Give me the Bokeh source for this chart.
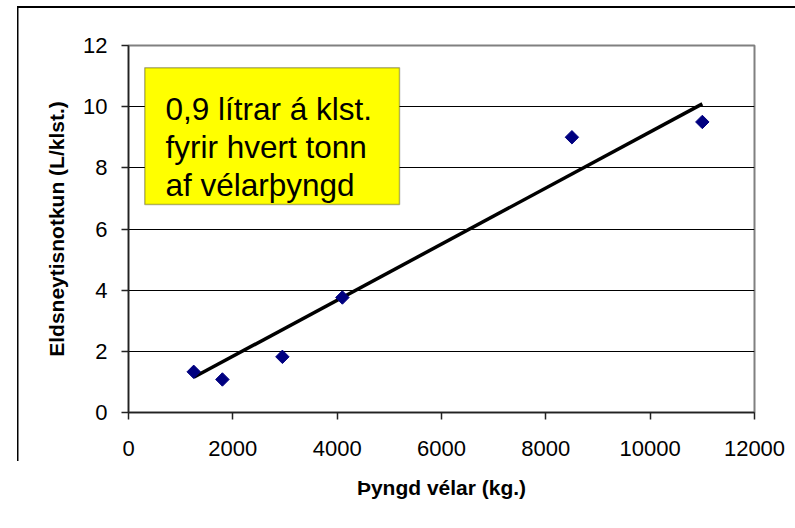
import math
from bokeh.plotting import figure
from bokeh.models import Range1d, FixedTicker, BoxAnnotation, Label
from bokeh.embed import file_html
from bokeh.resources import INLINE

# ---- data ----
weight_kg = [1250, 1800, 2950, 4100, 8500, 11000]
fuel_lph = [1.33, 1.08, 1.82, 3.76, 9.0, 9.5]
trend_x = [1250, 11000]
trend_y = [1.15, 10.09]
x_ticks = [0, 2000, 4000, 6000, 8000, 10000, 12000]
y_ticks = [0, 2, 4, 6, 8, 10, 12]
note_lines = ["0,9 lítrar á klst.", "fyrir hvert tonn", "af vélarþyngd"]
x_title = "Þyngd vélar (kg.)"
y_title = "Eldsneytisnotkun (L/klst.)"

FONT = "Liberation Sans"
W, H = 795, 528

p = figure(width=W, height=H, output_backend="svg", toolbar_location=None,
           x_range=Range1d(0, 12000), y_range=Range1d(0, 12),
           min_border_left=128, min_border_right=41, min_border_top=45,
           min_border_bottom=116)
p.background_fill_color = "white"
p.border_fill_alpha = 0
p.outline_line_color = "#808080"
p.outline_line_width = 2
# outer chart-area border lines (top and left) drawn as CSS backgrounds
p.styles = {
    "background-color": "white",
    "background-image": "linear-gradient(#000,#000), linear-gradient(#000,#000)",
    "background-size": "777px 2px, 1.5px 455px",
    "background-position": "18px 6px, 17px 6px",
    "background-repeat": "no-repeat",
}

# axes
for ax in (p.xaxis[0], p.yaxis[0]):
    ax.axis_line_color = "#222222"
    ax.axis_line_width = 1.5
    ax.major_tick_line_color = "#222222"
    ax.major_tick_line_width = 1.5
    ax.major_tick_in = 0
    ax.major_tick_out = 7
    ax.minor_tick_line_color = None
    ax.major_label_text_font = FONT
    ax.major_label_text_font_size = "22px"
    ax.major_label_text_color = "black"
    ax.axis_label_text_font = FONT
    ax.axis_label_text_font_size = "21px"
    ax.axis_label_text_font_style = "bold"
    ax.axis_label_text_color = "black"

p.xaxis[0].ticker = FixedTicker(ticks=x_ticks)
p.yaxis[0].ticker = FixedTicker(ticks=y_ticks)
p.xaxis[0].axis_label = x_title
p.yaxis[0].axis_label = y_title
p.xaxis[0].major_label_standoff = 21
p.xaxis[0].axis_label_standoff = 17
p.yaxis[0].major_label_standoff = 14
p.yaxis[0].axis_label_standoff = 12

p.xgrid.grid_line_color = None
p.ygrid.ticker = FixedTicker(ticks=y_ticks[1:-1])
p.ygrid.grid_line_color = "black"
p.ygrid.grid_line_width = 1

# trend line and points
p.line(trend_x, trend_y, line_color="black", line_width=3.5)
p.scatter(weight_kg, fuel_lph, marker="square", size=9.5, angle=math.pi / 4,
          fill_color="#000080", line_color="#000080")

# yellow note box
p.add_layout(BoxAnnotation(left=312, right=5195, top=11.27, bottom=6.80,
                           fill_color="#FFFF00", fill_alpha=1,
                           line_color="black", line_width=1.5, level="annotation"))
note_y = [9.925, 8.68, 7.45]
for txt, yy in zip(note_lines, note_y):
    p.add_layout(Label(x=709, y=yy, text=txt, text_font=FONT,
                       text_font_size="31.5px", text_color="black",
                       text_baseline="alphabetic", text_align="left"))

open("out.html", "w").write(file_html(p, INLINE))
